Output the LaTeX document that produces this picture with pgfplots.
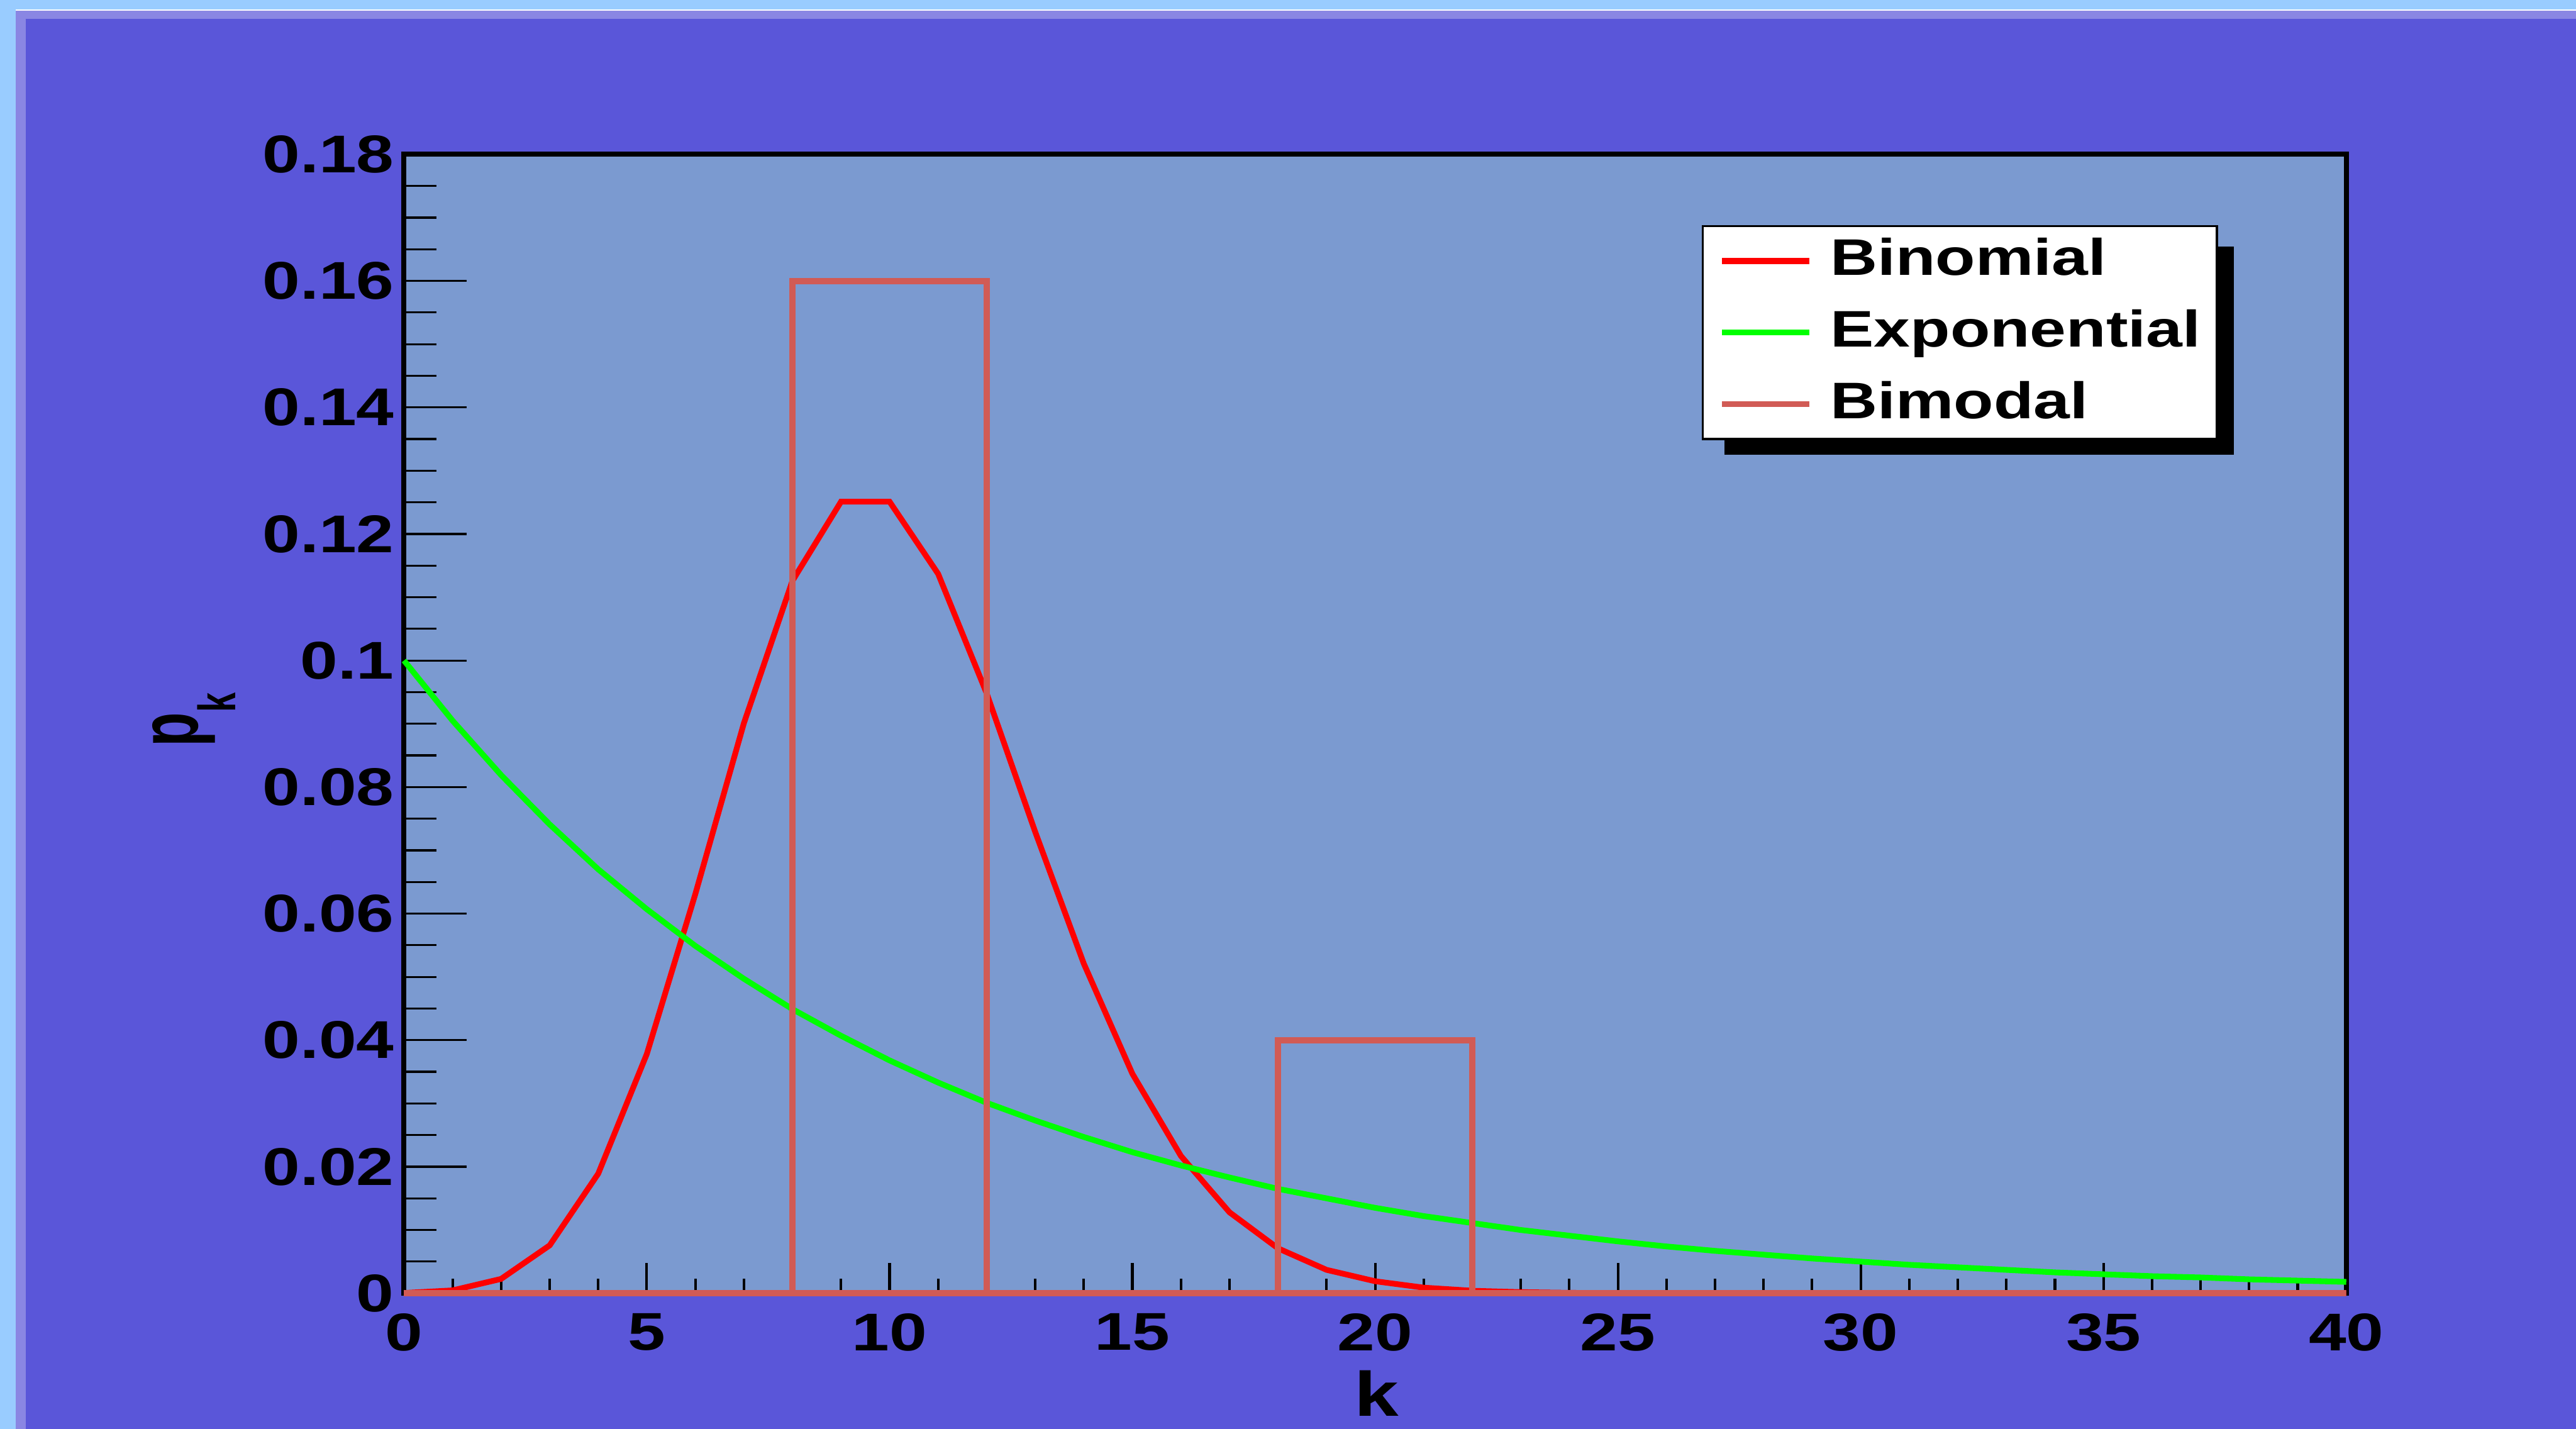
\documentclass[border=0pt]{standalone}
\usepackage{fontspec}
\setmainfont{Liberation Sans}[FakeStretch=1.27]
\newfontfamily\ylabfont{Liberation Sans}[FakeStretch=0.67]
\usepackage{pgfplots}
\pgfplotsset{compat=1.18}
\definecolor{outerblue}{HTML}{99CCFF}
\definecolor{bevel}{HTML}{8A86E3}
\definecolor{canvas}{HTML}{5A56D9}
\definecolor{plotbg}{HTML}{7B9AD0}
\definecolor{bimodal}{HTML}{D15B55}
\definecolor{expgreen}{HTML}{00FF00}
\newcommand{\tfont}{\fontsize{9.3}{11}\selectfont\bfseries}
\newcommand{\legfont}{\fontsize{9.0}{11}\selectfont\bfseries}
\newcommand{\lfont}{\fontsize{11}{13}\selectfont\bfseries}
\begin{document}
\begin{tikzpicture}
\useasboundingbox (0pt,0pt) rectangle (450.8pt,250pt);
\fill[outerblue] (0pt,0pt) rectangle (450.8pt,250pt);
\fill[bevel] (2.75pt,0pt) rectangle (450.8pt,248.3pt);
\draw[white, line width=0.25pt] (2.75pt,248.2pt) -- (450.8pt,248.2pt);
\fill[canvas] (4.5pt,0pt) rectangle (450.8pt,246.7pt);
\begin{axis}[
  at={(70.7pt,23.7pt)}, anchor=south west,
  scale only axis, width=339.9pt, height=199.3pt,
  xmin=0, xmax=40, ymin=0, ymax=0.18,
  axis background/.style={fill=plotbg},
  axis line style={line width=0.9pt, black},
  clip=false,
  xtick={0,5,10,15,20,25,30,35,40},
  xticklabels={0,5,10,15,20,25,30,35,40},
  ytick={0,0.02,0.04,0.06,0.08,0.1,0.12,0.14,0.16,0.18},
  yticklabels={0,0.02,0.04,0.06,0.08,0.1,0.12,0.14,0.16,0.18},
  minor x tick num=4, minor y tick num=3,
  tick align=inside, xtick pos=bottom, ytick pos=left,
  xtick style={black, line width=0.45pt, /pgfplots/major tick length=5.3pt, /pgfplots/minor tick length=2.5pt},
  ytick style={black, line width=0.35pt, /pgfplots/major tick length=11pt, /pgfplots/minor tick length=5.7pt},
  tick label style={font=\tfont},
  yticklabel style={xshift=1.8pt},
  xlabel={k},
  ylabel={\ylabfont\bfseries\fontsize{14.7}{16}\selectfont p\raisebox{-6.6pt}{\fontsize{9.2}{10}\selectfont k}},
  xlabel style={font=\lfont, at={(axis description cs:0.5007,-0.0878)}, anchor=center},
  ylabel style={at={(axis description cs:-0.1081,0.5035)}, anchor=center},
  legend style={at={(0.934,0.938)}, anchor=north east, draw=black, line width=0.4pt, fill=white,
    font=\legfont, inner xsep=0.85pt, inner ysep=0.6pt, row sep=1.5pt, column sep=1.1pt,
    nodes={inner ysep=1.5pt}},
  legend cell align=left,
  legend image code/.code={\path (0pt,0pt); \draw[#1] (2pt,0pt) -- (17.3pt,0pt);},
]
\fill[black] (rel axis cs:0.680,0.736) rectangle (rel axis cs:0.942,0.919);
\addplot[red, line width=1pt, sharp plot] coordinates {
(0,0.0000454)(1,0.000454)(2,0.00227)(3,0.00757)(4,0.0189)(5,0.0378)(6,0.0631)(7,0.0901)
(8,0.1126)(9,0.1251)(10,0.1251)(11,0.1137)(12,0.0948)(13,0.0729)(14,0.0521)(15,0.0347)
(16,0.0217)(17,0.0128)(18,0.0071)(19,0.0037)(20,0.0019)(21,0.00089)(22,0.0004)(23,0.00018)
(24,0.00007)(25,0.00003)(26,0.00001)(27,0)(28,0)(29,0)(30,0)(31,0)(32,0)(33,0)(34,0)(35,0)
(36,0)(37,0)(38,0)(39,0)(40,0)};
\addlegendentry{Binomial}
\addplot[expgreen, line width=1pt, sharp plot] coordinates {
(0,0.1000)(1,0.0905)(2,0.0819)(3,0.0741)(4,0.0670)(5,0.0607)(6,0.0549)(7,0.0497)(8,0.0449)
(9,0.0407)(10,0.0368)(11,0.0333)(12,0.0301)(13,0.0273)(14,0.0247)(15,0.0223)(16,0.0202)
(17,0.0183)(18,0.0165)(19,0.0150)(20,0.0135)(21,0.0122)(22,0.0111)(23,0.0100)(24,0.0091)
(25,0.0082)(26,0.0074)(27,0.0067)(28,0.0061)(29,0.0055)(30,0.0050)(31,0.0045)(32,0.0041)
(33,0.0037)(34,0.0033)(35,0.0030)(36,0.0027)(37,0.0025)(38,0.0022)(39,0.0020)(40,0.0018)};
\addlegendentry{Exponential}
\addplot[bimodal, line width=1.1pt, sharp plot] coordinates {
(0,0)(8,0)(8,0.16)(12,0.16)(12,0)(18,0)(18,0.04)(22,0.04)(22,0)(40,0)(0,0)};
\addlegendentry{Bimodal}
\end{axis}
\end{tikzpicture}
\end{document}
